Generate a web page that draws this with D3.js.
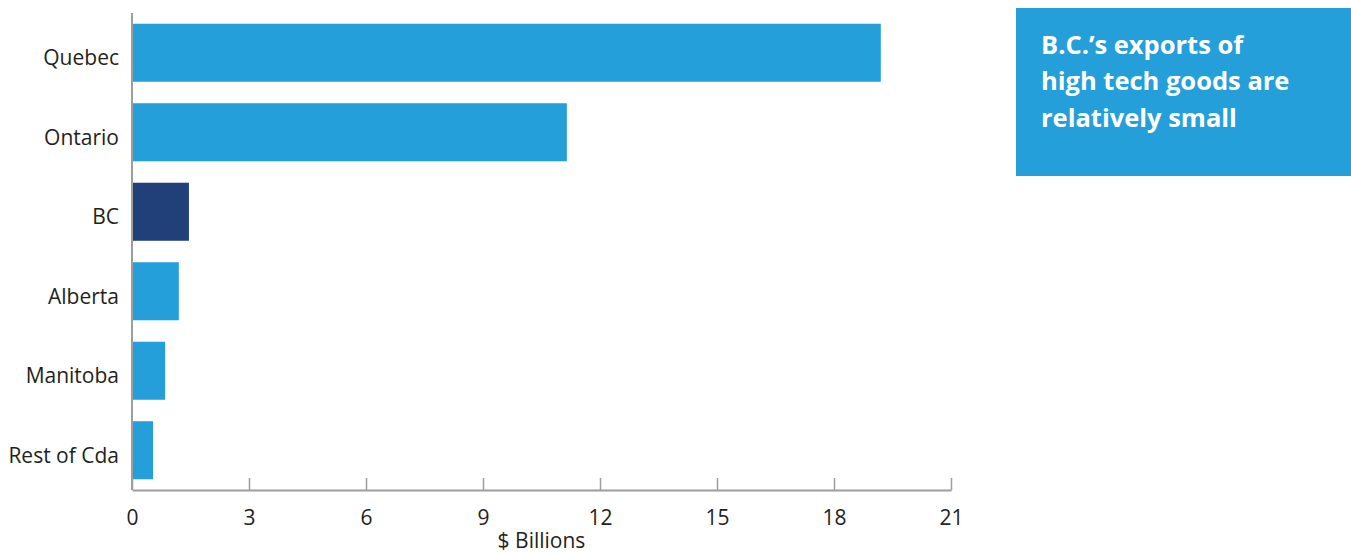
<!DOCTYPE html>
<html>
<head>
<meta charset="utf-8">
<script src="https://cdn.jsdelivr.net/npm/d3@7"></script>
<style>
  html, body { margin: 0; padding: 0; background: #fff; }
  svg { display: block; }
  text { font-family: "Open Sans", "Noto Sans", sans-serif; }
</style>
</head>
<body>
<svg id="chart" width="1351" height="553"></svg>
<script>
// High tech goods exports by province ($ billions)
const provinces = ["Quebec", "Ontario", "BC", "Alberta", "Manitoba", "Rest of Cda"];
const exportsBillions = [19.2, 11.15, 1.46, 1.2, 0.85, 0.54];
const highlighted = ["BC"];
const xTicks = [0, 3, 6, 9, 12, 15, 18, 21];
const xTitle = "$ Billions";
const calloutLines = ["B.C.\u2019s exports of", "high tech goods are", "relatively small"];

const data = provinces.map((p, i) => ({ province: p, value: exportsBillions[i] }));

const svg = d3.select("#chart");
const plotLeft = 132, plotRight = 951, plotTop = 13, plotBottom = 490;

const x = d3.scaleLinear().domain([0, 21]).range([plotLeft, plotRight]);
const y = d3.scaleBand().domain(provinces).range([plotTop, plotBottom])
  .paddingInner(0.27).paddingOuter(0.135);

const lightBlue = "#259fd9", darkBlue = "#213f78", axisGrey = "#9d9d9d", textCol = "#231f20";

// bars
svg.append("g").selectAll("rect").data(data).join("rect")
  .attr("x", x(0))
  .attr("y", d => y(d.province))
  .attr("width", d => x(d.value) - x(0))
  .attr("height", y.bandwidth())
  .attr("fill", d => highlighted.includes(d.province) ? darkBlue : lightBlue);

// x axis with inward ticks
const xAxis = svg.append("g").attr("transform", `translate(0,${plotBottom})`)
  .call(d3.axisBottom(x).tickValues(xTicks).tickSize(-12).tickSizeOuter(0).tickPadding(20));
xAxis.select(".domain").attr("stroke", axisGrey).attr("stroke-width", 2);
xAxis.selectAll(".tick line").attr("stroke", axisGrey).attr("stroke-width", 1.5);
xAxis.selectAll(".tick text").attr("fill", textCol).attr("font-size", 21);

// y axis: line only, labels on the left
const yAxis = svg.append("g").attr("transform", `translate(${plotLeft},0)`)
  .call(d3.axisLeft(y).tickSize(0).tickPadding(13));
yAxis.select(".domain").attr("stroke", axisGrey).attr("stroke-width", 2)
  .attr("d", `M0,${plotTop}V${plotBottom}`);
yAxis.selectAll(".tick text").attr("fill", textCol).attr("font-size", 21)
  .attr("dy", "0.6em");

// axis title
svg.append("text")
  .attr("x", (x(0) + x(21)) / 2)
  .attr("y", 548)
  .attr("text-anchor", "middle")
  .attr("fill", textCol)
  .attr("font-size", 21)
  .text(xTitle);

// callout box
svg.append("rect")
  .attr("x", 1016).attr("y", 8)
  .attr("width", 335).attr("height", 168)
  .attr("fill", lightBlue);

svg.append("g").selectAll("text").data(calloutLines).join("text")
  .attr("x", 1041)
  .attr("y", (d, i) => 53.5 + i * 36.5)
  .attr("fill", "#fff")
  .attr("font-size", 25.5)
  .attr("font-weight", 700)
  .text(d => d);
</script>
</body>
</html>
